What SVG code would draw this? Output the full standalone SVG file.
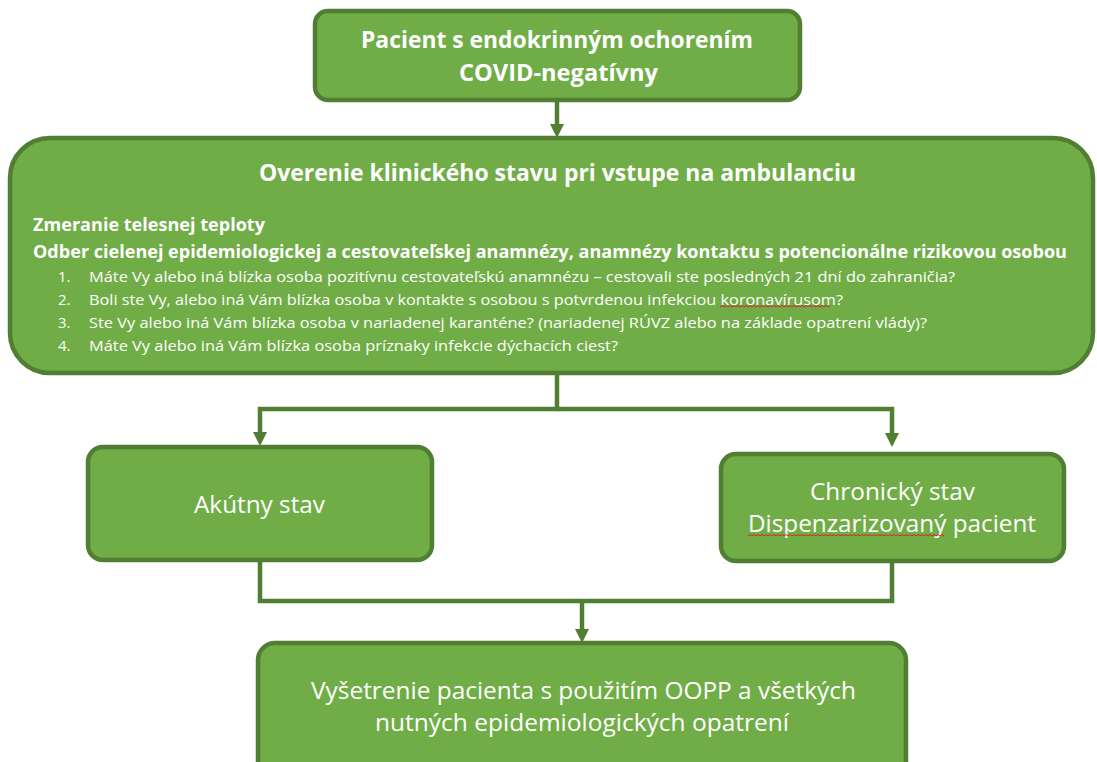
<svg xmlns="http://www.w3.org/2000/svg" width="1097" height="762" viewBox="0 0 1097 762">
<style>
.box{fill:#70AD47;stroke:#507E32;stroke-width:4.5}
.con{fill:none;stroke:#507E32;stroke-width:4.5}
text{font-family:"Open Sans","Liberation Sans",sans-serif;fill:#FFFFFF}
.b{font-weight:bold}
.sq{fill:none;stroke:#E02020;stroke-width:1}
</style>
<defs>
<marker id="ah" viewBox="0 0 14 14" markerUnits="userSpaceOnUse" markerWidth="14" markerHeight="14" refX="3" refY="7" orient="auto">
<path d="M0,0 L14,7 L0,14 z" fill="#507E32"/>
</marker>
</defs>
<rect width="1097" height="762" fill="#FFFFFF"/>
<g id="connectors">
<path class="con" d="M557,100 V127" marker-end="url(#ah)"/>
<path class="con" d="M557,372 V409 H260 V435" marker-end="url(#ah)"/>
<path class="con" d="M557,409 H892 V436" marker-end="url(#ah)"/>
<path class="con" d="M260,560 V601 H892 V560"/>
<path class="con" d="M582,601 V632" marker-end="url(#ah)"/>
</g>
<g id="n1">
<rect class="box" x="315" y="11" width="485" height="89" rx="13"/>
<text class="b" x="361" y="48" font-size="24" textLength="392" lengthAdjust="spacingAndGlyphs">Pacient s endokrinným ochorením</text>
<text class="b" x="459" y="81" font-size="24" textLength="199" lengthAdjust="spacingAndGlyphs">COVID-negatívny</text>
</g>
<g id="n2">
<rect class="box" x="10" y="138" width="1083" height="235" rx="40"/>
<text class="b" x="259" y="181" font-size="23.5" textLength="597" lengthAdjust="spacingAndGlyphs">Overenie klinického stavu pri vstupe na ambulanciu</text>
<text class="b" x="33" y="231" font-size="17.5" textLength="232" lengthAdjust="spacingAndGlyphs">Zmeranie telesnej teploty</text>
<text class="b" x="33" y="258" font-size="17.5" textLength="1034" lengthAdjust="spacingAndGlyphs">Odber cielenej epidemiologickej a cestovateľskej anamnézy, anamnézy kontaktu s potencionálne rizikovou osobou</text>
<g font-size="15">
<text x="58" y="282">1.</text>
<text x="89" y="282" textLength="866" lengthAdjust="spacingAndGlyphs">Máte Vy alebo iná blízka osoba pozitívnu cestovateľskú anamnézu – cestovali ste posledných 21 dní do zahraničia?</text>
<text x="58" y="305">2.</text>
<text x="89" y="305" textLength="754" lengthAdjust="spacingAndGlyphs">Boli ste Vy, alebo iná Vám blízka osoba v kontakte s osobou s potvrdenou infekciou koronavírusom?</text>
<text x="58" y="328">3.</text>
<text x="89" y="328" textLength="838" lengthAdjust="spacingAndGlyphs">Ste Vy alebo iná Vám blízka osoba v nariadenej karanténe? (nariadenej RÚVZ alebo na základe opatrení vlády)?</text>
<text x="58" y="351">4.</text>
<text x="89" y="351" textLength="529" lengthAdjust="spacingAndGlyphs">Máte Vy alebo iná Vám blízka osoba príznaky infekcie dýchacích ciest?</text>
</g>
<path class="sq" d="M720,307 l2,-1.5 l2,1.5 l2,-1.5 l2,1.5 l2,-1.5 l2,1.5 l2,-1.5 l2,1.5 l2,-1.5 l2,1.5 l2,-1.5 l2,1.5 l2,-1.5 l2,1.5 l2,-1.5 l2,1.5 l2,-1.5 l2,1.5 l2,-1.5 l2,1.5 l2,-1.5 l2,1.5 l2,-1.5 l2,1.5 l2,-1.5 l2,1.5 l2,-1.5 l2,1.5 l2,-1.5 l2,1.5 l2,-1.5 l2,1.5 l2,-1.5 l2,1.5 l2,-1.5 l2,1.5 l2,-1.5 l2,1.5 l2,-1.5 l2,1.5 l2,-1.5 l2,1.5 l2,-1.5 l2,1.5 l2,-1.5 l2,1.5 l2,-1.5 l2,1.5 l2,-1.5 l2,1.5 l2,-1.5 l2,1.5 l2,-1.5 l2,1.5 l2,-1.5"/>
</g>
<g id="n3">
<rect class="box" x="88" y="447" width="344" height="113" rx="15"/>
<text x="194" y="513" font-size="24" textLength="131" lengthAdjust="spacingAndGlyphs">Akútny stav</text>
</g>
<g id="n4">
<rect class="box" x="721" y="454" width="343" height="107" rx="15"/>
<text x="810" y="500" font-size="23" textLength="165" lengthAdjust="spacingAndGlyphs">Chronický stav</text>
<text x="748" y="532" font-size="23" textLength="288" lengthAdjust="spacingAndGlyphs">Dispenzarizovaný pacient</text>
<path class="sq" d="M748,536 l2,-1.5 l2,1.5 l2,-1.5 l2,1.5 l2,-1.5 l2,1.5 l2,-1.5 l2,1.5 l2,-1.5 l2,1.5 l2,-1.5 l2,1.5 l2,-1.5 l2,1.5 l2,-1.5 l2,1.5 l2,-1.5 l2,1.5 l2,-1.5 l2,1.5 l2,-1.5 l2,1.5 l2,-1.5 l2,1.5 l2,-1.5 l2,1.5 l2,-1.5 l2,1.5 l2,-1.5 l2,1.5 l2,-1.5 l2,1.5 l2,-1.5 l2,1.5 l2,-1.5 l2,1.5 l2,-1.5 l2,1.5 l2,-1.5 l2,1.5 l2,-1.5 l2,1.5 l2,-1.5 l2,1.5 l2,-1.5 l2,1.5 l2,-1.5 l2,1.5 l2,-1.5 l2,1.5 l2,-1.5 l2,1.5 l2,-1.5 l2,1.5 l2,-1.5 l2,1.5 l2,-1.5 l2,1.5 l2,-1.5 l2,1.5 l2,-1.5 l2,1.5 l2,-1.5 l2,1.5 l2,-1.5 l2,1.5 l2,-1.5 l2,1.5 l2,-1.5 l2,1.5 l2,-1.5 l2,1.5 l2,-1.5 l2,1.5 l2,-1.5 l2,1.5 l2,-1.5 l2,1.5 l2,-1.5 l2,1.5 l2,-1.5 l2,1.5 l2,-1.5 l2,1.5 l2,-1.5 l2,1.5 l2,-1.5 l2,1.5 l2,-1.5 l2,1.5 l2,-1.5 l2,1.5 l2,-1.5 l2,1.5 l2,-1.5 l2,1.5 l2,-1.5 l2,1.5"/>
</g>
<g id="n5">
<rect class="box" x="258" y="643" width="648" height="135" rx="17"/>
<text x="311" y="699" font-size="24" textLength="545" lengthAdjust="spacingAndGlyphs">Vyšetrenie pacienta s použitím OOPP a všetkých</text>
<text x="375" y="731" font-size="24" textLength="414" lengthAdjust="spacingAndGlyphs">nutných epidemiologických opatrení</text>
</g>
</svg>
